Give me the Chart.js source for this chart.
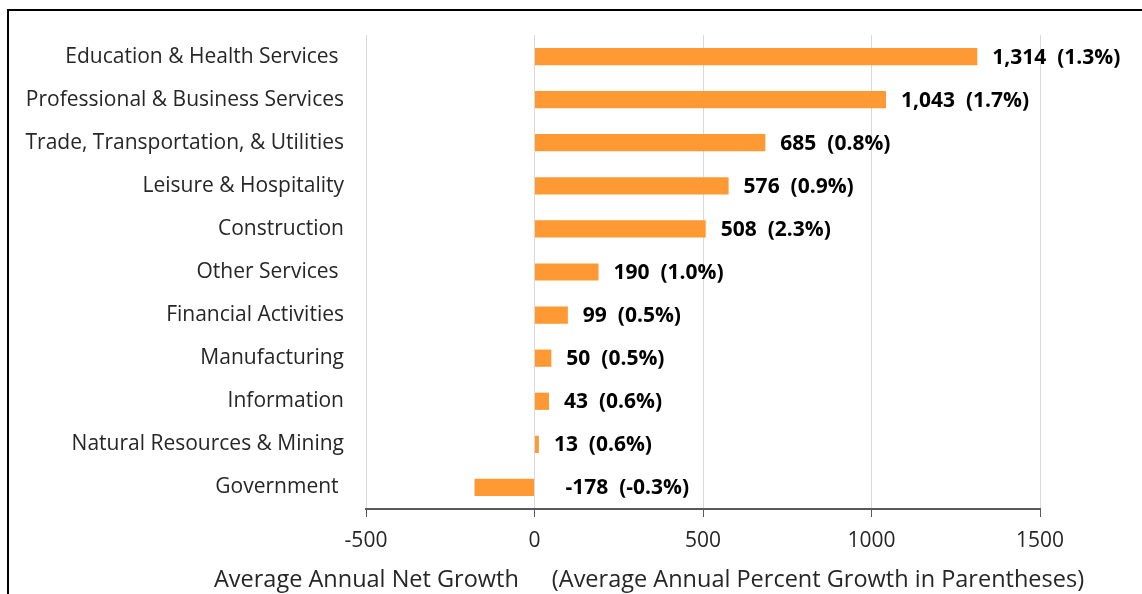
<!DOCTYPE html>
<html>
<head>
<meta charset="utf-8">
<script src="https://cdn.jsdelivr.net/npm/chart.js@4/dist/chart.umd.min.js"></script>
<style>
  body { margin: 0; background: #fff; }
  #box {
    position: absolute; left: 7px; top: 9px; width: 1135px; height: 585px;
    border-left: 2px solid #000; border-top: 2px solid #000;
  }
  #grafico { position: absolute; left: 0; top: 0; }
</style>
</head>
<body>
<div id="box"><canvas id="grafico" width="1133" height="583"></canvas></div>
<script>
// Dados do gráfico
var setores = [
  'Education & Health Services ',
  'Professional & Business Services',
  'Trade, Transportation, & Utilities',
  'Leisure & Hospitality',
  'Construction',
  'Other Services ',
  'Financial Activities',
  'Manufacturing',
  'Information',
  'Natural Resources & Mining',
  'Government '
];
var crescimentoLiquido = [1314, 1043, 685, 576, 508, 190, 99, 50, 43, 13, -178];
var crescimentoPct = ['1.3', '1.7', '0.8', '0.9', '2.3', '1.0', '0.5', '0.5', '0.6', '0.6', '-0.3'];
var ticksX = [-500, 0, 500, 1000, 1500];
var tituloEixo = ['Average Annual Net Growth', '(Average Annual Percent Growth in Parentheses)'];

var fonte = 'Open Sans';
var corTexto = '#262626';

// rótulos dos valores ao lado das barras
var rotulosPlugin = {
  id: 'rotulos',
  afterDatasetsDraw: function (chart) {
    var ctx = chart.ctx;
    var meta = chart.getDatasetMeta(0);
    var x = chart.scales.x;
    ctx.save();
    ctx.font = 'bold 21px ' + fonte;
    ctx.fillStyle = '#000';
    ctx.textBaseline = 'middle';
    ctx.textAlign = 'left';
    meta.data.forEach(function (bar, i) {
      var v = crescimentoLiquido[i];
      var txt = v.toLocaleString('en-US') + '  (' + crescimentoPct[i] + '%)';
      var px = v >= 0 ? bar.x + 15 : x.getPixelForValue(0) + 31;
      ctx.fillText(txt, px, bar.y + 1);
    });
    ctx.restore();
  }
};

// título do eixo x (duas partes, com espaço entre elas)
var tituloPlugin = {
  id: 'tituloEixo',
  afterDraw: function (chart) {
    var ctx = chart.ctx;
    ctx.save();
    ctx.font = '23.5px ' + fonte;
    ctx.fillStyle = corTexto;
    ctx.textBaseline = 'middle';
    ctx.textAlign = 'left';
    var gap = 33;
    var w1 = ctx.measureText(tituloEixo[0]).width;
    var w2 = ctx.measureText(tituloEixo[1]).width;
    var x0 = 640 - (w1 + gap + w2) / 2;
    ctx.fillText(tituloEixo[0], x0, 569);
    ctx.fillText(tituloEixo[1], x0 + w1 + gap, 569);
    ctx.restore();
  }
};

var ctx1 = document.getElementById('grafico').getContext('2d');
var chart = new Chart(ctx1, {
  type: 'bar',
  data: {
    labels: setores,
    datasets: [{
      data: crescimentoLiquido,
      backgroundColor: 'rgb(255, 153, 51)',
      borderWidth: 0,
      categoryPercentage: 1,
      barPercentage: 0.4
    }]
  },
  options: {
    indexAxis: 'y',
    responsive: false,
    animation: false,
    layout: { padding: { left: 0, right: 102, top: 24, bottom: 0 } },
    plugins: {
      legend: { display: false },
      tooltip: { enabled: false }
    },
    scales: {
      x: {
        min: -500,
        max: 1500,
        afterBuildTicks: function (s) {
          s.ticks = ticksX.map(function (v) { return { value: v }; });
        },
        grid: { color: '#d9d9d9', lineWidth: 1, tickColor: '#595959', tickLength: 8 },
        border: { color: '#595959', width: 2 },
        ticks: {
          color: corTexto,
          font: { family: fonte, size: 21 },
          padding: 11,
          maxRotation: 0,
          callback: function (v) { return String(v); }
        },
        afterFit: function (s) { s.height = 85; }
      },
      y: {
        grid: { display: false, drawTicks: false },
        border: { display: false },
        ticks: {
          color: corTexto,
          font: { family: fonte, size: 21 },
          padding: 22,
          autoSkip: false
        },
        afterFit: function (s) {
          s.width = 357;
          s.paddingTop = 0;
          s.paddingBottom = 0;
        }
      }
    }
  },
  plugins: [rotulosPlugin, tituloPlugin]
});
</script>
</body>
</html>
